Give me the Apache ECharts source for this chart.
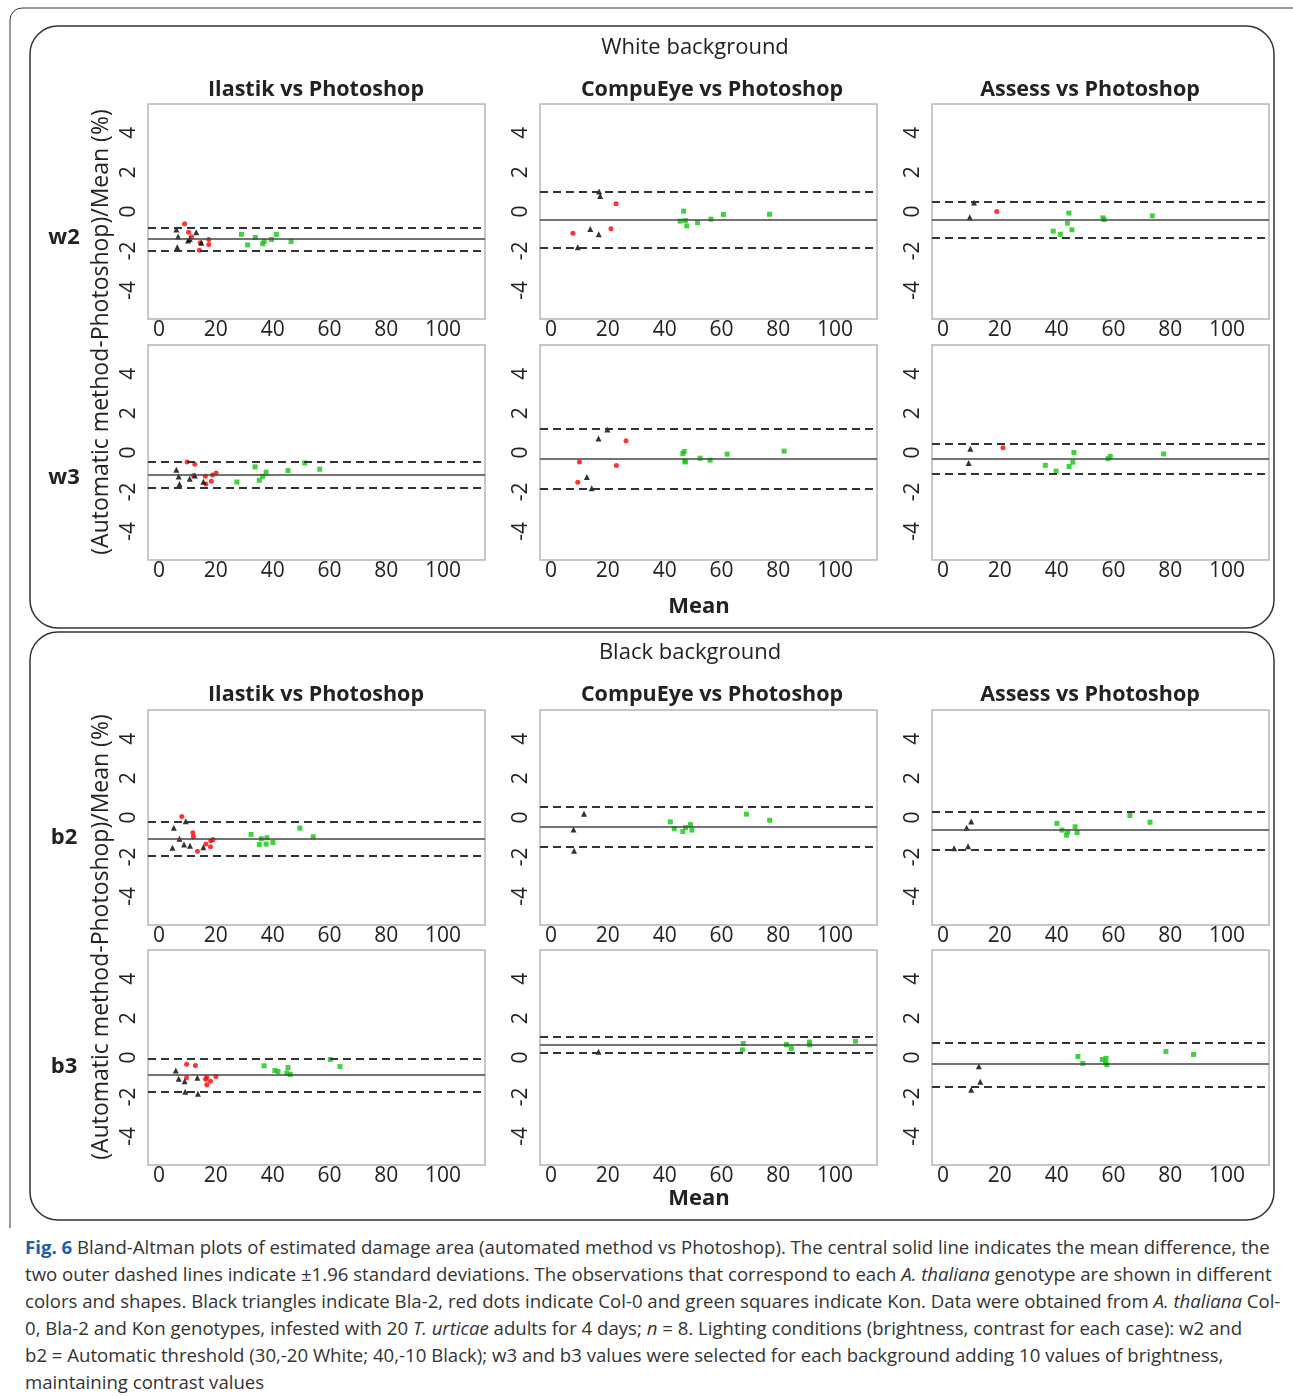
<!DOCTYPE html>
<html>
<head>
<meta charset="utf-8">
<script src="https://cdn.jsdelivr.net/npm/echarts@6/dist/echarts.min.js"></script>
<style>
  body { margin: 0; background: #fff; }
  #chart { width: 1293px; height: 1228px; }
  #caption {
    position: absolute; left: 25px; top: 1233px; width: 1265px;
    font-family: 'Open Sans', sans-serif; font-size: 18.6px; line-height: 27px; color: #333;
  }
  #caption div { white-space: nowrap; }
  #caption b { color: #1b5fa8; }
</style>
</head>
<body>
<div id="chart"></div>
<div id="caption">
  <div><b>Fig. 6</b> Bland-Altman plots of estimated damage area (automated method vs Photoshop). The central solid line indicates the mean difference, the</div>
  <div>two outer dashed lines indicate ±1.96 standard deviations. The observations that correspond to each <i>A. thaliana</i> genotype are shown in different</div>
  <div>colors and shapes. Black triangles indicate Bla-2, red dots indicate Col-0 and green squares indicate Kon. Data were obtained from <i>A. thaliana</i> Col-</div>
  <div>0, Bla-2 and Kon genotypes, infested with 20 <i>T. urticae</i> adults for 4 days; <i>n</i> = 8. Lighting conditions (brightness, contrast for each case): w2 and</div>
  <div>b2 = Automatic threshold (30,-20 White; 40,-10 Black); w3 and b3 values were selected for each background adding 10 values of brightness,</div>
  <div>maintaining contrast values</div>
</div>
<script>
const colTitles = ['Ilastik vs Photoshop', 'CompuEye vs Photoshop', 'Assess vs Photoshop'];
const rowLabels = ['w2', 'w3', 'b2', 'b3'];
const xTicks = [0, 20, 40, 60, 80, 100];
const yTicks = [-4, -2, 0, 2, 4];

// [mean, mean + 1.96 sd, mean - 1.96 sd] for each panel
// points are [mean %, difference %]

// w2
const w2IlastikBla = [[6.1, -0.91], [6.7, -1.27], [6.4, -1.81], [10.2, -1.47], [10.8, -1.40], [13.1, -1.06], [14.9, -1.59]];
const w2IlastikCol = [[9.0, -0.62], [10.4, -1.06], [11.4, -1.28], [14.5, -1.59], [17.5, -1.42], [17.5, -1.67], [14.2, -1.97]];
const w2IlastikKon = [[29.0, -1.16], [31.2, -1.70], [33.9, -1.32], [36.5, -1.64], [37.0, -1.52], [39.6, -1.42], [41.3, -1.16], [46.5, -1.52]];
const w2IlastikLines = [-1.38, -0.83, -2.01];

const w2CompuBla = [[16.9, 1.01], [17.3, 0.79], [13.8, -0.89], [16.8, -1.16], [9.4, -1.82]];
const w2CompuCol = [[22.9, 0.39], [7.7, -1.10], [21.1, -0.88]];
const w2CompuKon = [[46.7, 0.02], [45.5, -0.49], [47.3, -0.46], [47.8, -0.73], [51.6, -0.57], [56.3, -0.39], [60.7, -0.15], [76.9, -0.14]];
const w2CompuLines = [-0.42, 1.01, -1.86];

const w2AssessBla = [[10.9, 0.46], [9.4, -0.29]];
const w2AssessCol = [[18.9, 0.0]];
const w2AssessKon = [[44.3, -0.08], [43.8, -0.59], [38.8, -1.00], [41.3, -1.16], [45.4, -0.93], [56.3, -0.32], [56.7, -0.41], [73.7, -0.22]];
const w2AssessLines = [-0.42, 0.51, -1.35];

// w3
const w3IlastikBla = [[6.1, -0.87], [6.9, -1.22], [7.2, -1.60], [10.8, -1.33], [12.6, -1.17], [15.6, -1.48]];
const w3IlastikCol = [[9.9, -0.48], [12.6, -0.60], [12.1, -1.17], [16.3, -1.21], [16.5, -1.60], [18.4, -1.46], [18.8, -1.14], [20.1, -1.04]];
const w3IlastikKon = [[27.4, -1.50], [33.8, -0.73], [35.3, -1.41], [36.5, -1.21], [37.7, -1.00], [45.4, -0.92], [51.3, -0.53], [56.6, -0.85]];
const w3IlastikLines = [-1.12, -0.49, -1.79];

const w3CompuBla = [[19.8, 1.17], [16.7, 0.71], [12.6, -1.24], [14.3, -1.82]];
const w3CompuCol = [[26.4, 0.60], [10.0, -0.48], [23.0, -0.66], [9.4, -1.51]];
const w3CompuKon = [[46.4, -0.05], [46.9, 0.05], [47.1, -0.43], [47.3, -0.48], [52.5, -0.29], [56.0, -0.39], [62.0, -0.08], [82.1, 0.07]];
const w3CompuLines = [-0.31, 1.21, -1.85];

const w3AssessBla = [[9.6, 0.19], [9.0, -0.53]];
const w3AssessCol = [[21.1, 0.24]];
const w3AssessKon = [[36.0, -0.65], [39.8, -0.95], [44.4, -0.71], [45.7, -0.49], [46.1, 0.0], [58.1, -0.31], [58.9, -0.20], [77.7, -0.07]];
const w3AssessLines = [-0.32, 0.43, -1.07];

// b2
const b2IlastikBla = [[9.4, -0.19], [5.2, -0.52], [7.2, -1.08], [4.7, -1.54], [8.8, -1.37], [10.9, -1.44], [15.6, -1.51]];
const b2IlastikCol = [[8.0, 0.05], [11.9, -0.78], [12.1, -0.98], [13.5, -1.71], [16.5, -1.34], [18.1, -1.49], [18.2, -1.18], [19.0, -1.12]];
const b2IlastikKon = [[32.4, -0.86], [35.3, -1.37], [36.0, -1.08], [37.7, -1.35], [38.0, -1.03], [40.1, -1.27], [49.6, -0.54], [54.3, -0.98]];
const b2IlastikLines = [-1.08, -0.24, -1.96];

const b2CompuBla = [[11.6, 0.19], [7.9, -0.61], [8.1, -1.69]];
const b2CompuCol = [];
const b2CompuKon = [[42.0, -0.22], [43.4, -0.57], [46.4, -0.71], [47.4, -0.51], [49.1, -0.36], [49.6, -0.64], [68.8, 0.17], [77.0, -0.14]];
const b2CompuLines = [-0.47, 0.56, -1.49];

const b2AssessBla = [[9.9, -0.20], [8.3, -0.52], [3.9, -1.56], [8.8, -1.46]];
const b2AssessCol = [];
const b2AssessKon = [[40.1, -0.30], [41.9, -0.64], [43.5, -0.90], [43.9, -0.73], [46.5, -0.47], [47.2, -0.76], [65.8, 0.10], [72.9, -0.24]];
const b2AssessLines = [-0.64, 0.29, -1.62];

// b3
const b3IlastikBla = [[5.9, -0.66], [6.9, -1.08], [9.0, -1.20], [13.5, -1.03], [9.2, -1.74], [13.7, -1.84]];
const b3IlastikCol = [[9.7, -0.34], [12.8, -0.41], [9.7, -1.03], [16.8, -1.00], [16.4, -1.10], [18.1, -1.20], [16.8, -1.39], [20.0, -0.96]];
const b3IlastikKon = [[37.0, -0.42], [40.8, -0.66], [41.9, -0.71], [45.4, -0.51], [45.0, -0.78], [46.2, -0.86], [60.3, -0.10], [63.7, -0.46]];
const b3IlastikLines = [-0.90, -0.07, -1.74];

const b3CompuBla = [[16.7, 0.29]];
const b3CompuCol = [];
const b3CompuKon = [[67.7, 0.71], [67.4, 0.39], [82.9, 0.66], [84.6, 0.46], [91.0, 0.78], [91.1, 0.64], [107.2, 0.83]];
const b3CompuLines = [0.64, 1.03, 0.22];

const b3AssessBla = [[12.6, -0.44], [13.1, -1.23], [9.9, -1.64]];
const b3AssessCol = [];
const b3AssessKon = [[47.5, 0.05], [49.2, -0.30], [56.1, -0.10], [57.4, -0.05], [57.2, -0.27], [57.7, -0.37], [78.5, 0.30], [88.2, 0.15]];
const b3AssessLines = [-0.34, 0.74, -1.51];

const panels = [
  [w2IlastikBla, w2IlastikCol, w2IlastikKon, w2IlastikLines],
  [w2CompuBla, w2CompuCol, w2CompuKon, w2CompuLines],
  [w2AssessBla, w2AssessCol, w2AssessKon, w2AssessLines],
  [w3IlastikBla, w3IlastikCol, w3IlastikKon, w3IlastikLines],
  [w3CompuBla, w3CompuCol, w3CompuKon, w3CompuLines],
  [w3AssessBla, w3AssessCol, w3AssessKon, w3AssessLines],
  [b2IlastikBla, b2IlastikCol, b2IlastikKon, b2IlastikLines],
  [b2CompuBla, b2CompuCol, b2CompuKon, b2CompuLines],
  [b2AssessBla, b2AssessCol, b2AssessKon, b2AssessLines],
  [b3IlastikBla, b3IlastikCol, b3IlastikKon, b3IlastikLines],
  [b3CompuBla, b3CompuCol, b3CompuKon, b3CompuLines],
  [b3AssessBla, b3AssessCol, b3AssessKon, b3AssessLines],
];

// layout of the plot boxes
const colLeft = [148, 540, 932];
const titleX = [316, 712, 1090];
const rowTop = [104, 345, 710, 950];
const boxW = 337, boxH = 215;
const font = "'Open Sans', sans-serif";

const grid = [], xAxis = [], yAxis = [], series = [];
panels.forEach((p, i) => {
  const r = Math.floor(i / 3), c = i % 3;
  grid.push({
    left: colLeft[c], top: rowTop[r], width: boxW, height: boxH,
    containLabel: false, outerBoundsMode: 'none',
    show: true, borderColor: '#b5b5b5', borderWidth: 1.5, backgroundColor: '#fff',
  });
  xAxis.push({
    type: 'value', gridIndex: i, min: -3.9, max: 114.8,
    axisLine: { show: false },
    axisTick: { show: false },
    splitLine: { show: false },
    axisLabel: { customValues: xTicks, fontSize: 21, color: '#222', fontFamily: font, margin: 1 },
  });
  yAxis.push({
    type: 'value', gridIndex: i, min: -5.46, max: 5.46,
    axisLine: { show: false },
    axisTick: { show: false },
    splitLine: { show: false },
    axisLabel: { customValues: yTicks, rotate: 90, fontSize: 21, color: '#222', fontFamily: font, margin: 8 },
  });
  const dash = { color: '#333', width: 2, type: [8, 5] };
  series.push({
    type: 'scatter', xAxisIndex: i, yAxisIndex: i, data: p[2],
    symbol: 'rect', symbolSize: 5, itemStyle: { color: '#12c712' },
    markLine: {
      silent: true, symbol: 'none', label: { show: false }, animation: false,
      data: [
        { yAxis: p[3][0], lineStyle: { color: '#444', width: 1.5, type: 'solid' } },
        { yAxis: p[3][1], lineStyle: dash },
        { yAxis: p[3][2], lineStyle: dash },
      ],
    },
  });
  series.push({
    type: 'scatter', xAxisIndex: i, yAxisIndex: i, data: p[1],
    symbol: 'circle', symbolSize: 5, itemStyle: { color: '#ff0000' },
  });
  series.push({
    type: 'scatter', xAxisIndex: i, yAxisIndex: i, data: p[0],
    symbol: 'triangle', symbolSize: 6, itemStyle: { color: '#000' },
  });
});

// frames and texts
const graphic = [
  { type: 'rect', shape: { x: 10, y: 8, width: 1300, height: 1400, r: 12 }, style: { fill: 'none', stroke: '#333', lineWidth: 1 } },
  { type: 'rect', shape: { x: 30, y: 26, width: 1244, height: 602, r: 28 }, style: { fill: 'none', stroke: '#333', lineWidth: 1.5 } },
  { type: 'rect', shape: { x: 30, y: 632, width: 1244, height: 588, r: 28 }, style: { fill: 'none', stroke: '#333', lineWidth: 1.5 } },
];
function addText(text, x, y, size, weight, rotation) {
  graphic.push({
    type: 'text', x: x, y: y, rotation: rotation || 0,
    style: { text: text, fontSize: size, fontWeight: weight, fontFamily: font, fill: '#222', align: 'center', verticalAlign: 'middle' },
  });
}
addText('White background', 695, 48, 22, 'normal');
addText('Black background', 690, 653, 22, 'normal');
[90, 695].forEach(y => colTitles.forEach((t, c) => addText(t, titleX[c], y, 21.5, 'bold')));
const rowLabelY = [238, 478, 838, 1067];
rowLabels.forEach((t, r) => addText(t, 64, rowLabelY[r], 22, 'bold'));
addText('(Automatic method-Photoshop)/Mean (%)', 101, 332, 23, 'normal', Math.PI / 2);
addText('(Automatic method-Photoshop)/Mean (%)', 101, 937, 23, 'normal', Math.PI / 2);
addText('Mean', 699, 607, 22, 'bold');
addText('Mean', 699, 1199, 22, 'bold');

const chart = echarts.init(document.getElementById('chart'));
chart.setOption({
  animation: false,
  grid: grid,
  xAxis: xAxis,
  yAxis: yAxis,
  series: series,
  graphic: graphic,
});
</script>
</body>
</html>
